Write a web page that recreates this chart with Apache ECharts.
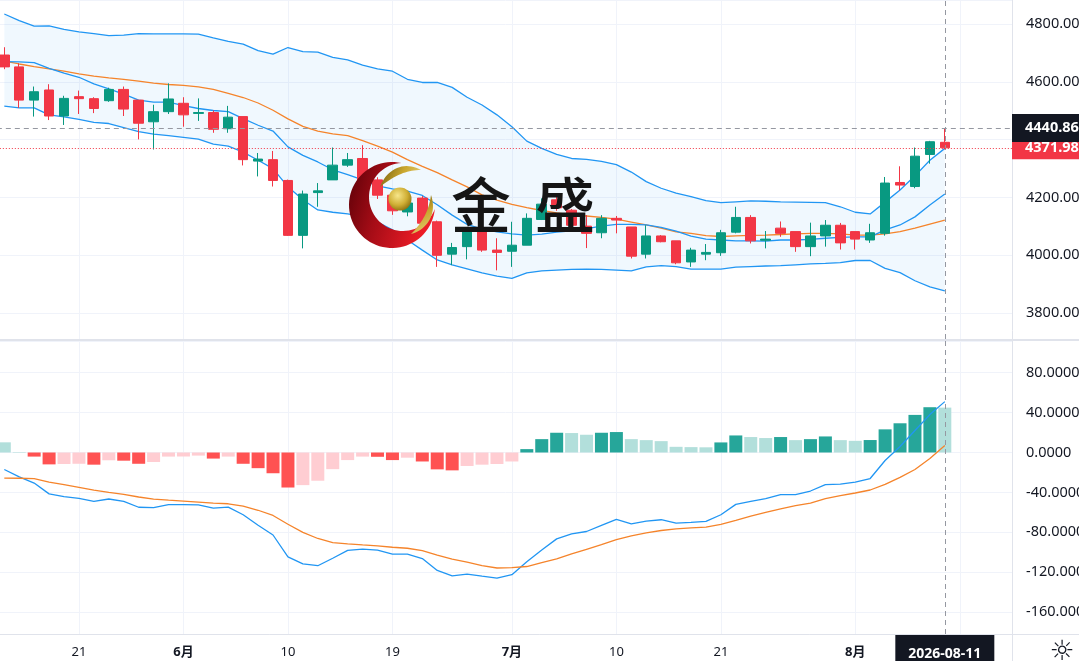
<!DOCTYPE html>
<html><head><meta charset="utf-8">
<script src="https://cdn.jsdelivr.net/npm/echarts@6/dist/echarts.min.js"></script>
<style>html,body{margin:0;padding:0;background:#fff;}#c{width:1079px;height:661px;}</style>
</head><body><div id="c"></div>
<script>
// ---------- data ----------
const dates = ['2026-05-14','2026-05-15','2026-05-18','2026-05-19','2026-05-20','2026-05-21','2026-05-22','2026-05-25','2026-05-26','2026-05-27','2026-05-28','2026-05-29',
'2026-06-01','2026-06-02','2026-06-03','2026-06-04','2026-06-05','2026-06-08','2026-06-09','2026-06-10','2026-06-11','2026-06-12','2026-06-15','2026-06-16','2026-06-17','2026-06-18','2026-06-19','2026-06-22','2026-06-23','2026-06-24','2026-06-25','2026-06-26','2026-06-29','2026-06-30',
'2026-07-01','2026-07-02','2026-07-03','2026-07-06','2026-07-07','2026-07-08','2026-07-09','2026-07-10','2026-07-13','2026-07-14','2026-07-15','2026-07-16','2026-07-17','2026-07-20','2026-07-21','2026-07-22','2026-07-23','2026-07-24','2026-07-27','2026-07-28','2026-07-29','2026-07-30','2026-07-31',
'2026-08-03','2026-08-04','2026-08-05','2026-08-06','2026-08-07','2026-08-10','2026-08-11'];
const futureDates = ['2026-08-12','2026-08-13','2026-08-14','2026-08-17'];

const openP = [4693,4652,4537,4572,4482,4549,4542,4535,4574,4537,
 4462,4497,4526,4491,4494,4438,4480,4326,4331,4259,
 4069,4217,4261,4312,4335,4261,4208,4150,4198,4116,
 4004,4030,4081,4018,4014,4035,4124,4192,4156,4101,
 4078,4128,4098,4004,4067,4050,3977,4004,4009,4080,
 4131,4052,4094,4082,4030,4067,4104,4082,4053,4076,
 4252,4238,4349,4391];
const closeP = [4652,4537,4566,4482,4543,4542,4508,4574,4506,4457,
 4497,4541,4486,4494,4436,4478,4331,4333,4259,4069,
 4212,4223,4312,4331,4261,4208,4154,4181,4111,4000,
 4027,4081,4018,4010,4035,4128,4177,4164,4104,4076,
 4128,4122,3997,4067,4047,3974,4018,4010,4078,4131,
 4050,4056,4076,4030,4067,4104,4043,4056,4078,4250,
 4243,4343,4393,4371.98];
const highP = [4720,4664,4584,4592,4552,4570,4547,4580,4584,4537,
 4521,4595,4547,4543,4501,4517,4480,4354,4361,4262,
 4224,4250,4373,4354,4381,4270,4222,4194,4205,4120,
 4043,4087,4087,4059,4116,4145,4197,4204,4160,4139,
 4139,4136,4098,4104,4070,4050,4026,4039,4088,4168,
 4139,4084,4117,4082,4113,4122,4112,4082,4109,4271,
 4308,4373,4396,4437];
const lowP = [4644,4510,4480,4468,4451,4489,4492,4531,4482,4401,
 4366,4489,4445,4465,4424,4424,4311,4273,4238,4067,
 4024,4168,4261,4306,4252,4195,4140,4135,4100,3960,
 3966,3986,4012,3948,3960,4035,4122,4154,4095,4025,
 4059,4076,3989,3989,4045,3969,3960,3983,3998,4076,
 4041,4024,4064,4012,3997,4030,4020,4020,4043,4068,
 4224,4232,4317,4367];

const bbUpper = [4835,4812,4793,4794,4782,4773,4767,4760,4762,4767,
 4766,4766,4766,4765,4752,4740,4731,4708,4696,4719,
 4705,4703,4685,4676,4658,4645,4637,4609,4598,4598,
 4581,4547,4520,4486,4445,4395,4370,4349,4335,4332,
 4325,4314,4288,4255,4232,4215,4203,4189,4182,4185,
 4188,4187,4185,4184,4183,4182,4168,4149,4143,4184,
 4226,4275,4329,4370];
const bbBasis = [4672,4662,4653,4645,4637,4628,4620,4614,4609,4603,
 4596,4591,4588,4583,4574,4560,4546,4527,4502,4472,
 4446,4430,4420,4414,4397,4378,4357,4331,4308,4286,
 4261,4237,4209,4191,4176,4165,4155,4147,4140,4136,
 4131,4125,4115,4105,4094,4081,4076,4068,4065,4067,
 4069,4070,4072,4074,4076,4076,4074,4070,4070,4074,
 4082,4094,4108,4122];
const bbLower = [4516,4510,4510,4486,4479,4470,4460,4456,4442,4428,
 4419,4414,4408,4402,4385,4378,4357,4329,4300,4237,
 4192,4157,4149,4143,4134,4115,4088,4053,4018,3984,
 3967,3953,3939,3928,3920,3939,3946,3949,3951,3952,
 3951,3949,3946,3960,3964,3961,3952,3952,3952,3959,
 3961,3963,3964,3967,3970,3972,3975,3982,3982,3955,
 3940,3912,3891,3877];
const maLine = [4670,4669,4667,4647,4630,4616,4593,4576,4558,4537,
 4530,4530,4518,4508,4501,4497,4473,4450,4430,4375,
 4346,4323,4296,4279,4261,4240,4230,4222,4207,4175,
 4139,4107,4091,4081,4074,4070,4073,4080,4085,4092,
 4101,4107,4107,4105,4097,4084,4066,4056,4053,4050,
 4050,4049,4053,4053,4055,4059,4062,4064,4064,4088,
 4105,4133,4174,4212];

const macdLine = [-17,-24.5,-30.6,-41.5,-44.3,-46,-49,-46.6,-49,-54.9,
 -55.2,-52.2,-52.2,-52.5,-55.8,-54.8,-62.4,-72.9,-82.7,-104.6,
 -111.7,-113.5,-106,-98.1,-96.8,-97.8,-101.9,-101.9,-106.3,-118.2,
 -123.6,-121.9,-124,-126,-122.5,-109.5,-97.7,-86.6,-81.5,-79.2,
 -73.1,-67.1,-71.5,-68.8,-67.4,-70.8,-70.1,-69.1,-62.4,-52,
 -49,-46.3,-42.3,-42.3,-38.6,-32.2,-31.8,-29.8,-26.1,-8,
 6,22,38,51];
const signalLine = [-25.6,-25.8,-26.2,-29.6,-32.3,-35,-37.8,-39.9,-41.9,-44.6,
 -46.7,-47.8,-48.8,-49.8,-50.8,-51.4,-53.8,-57.9,-63.1,-71.9,
 -80,-86.2,-90.3,-91.6,-92.7,-93.7,-95,-96,-98.4,-102.8,
 -107,-110,-113.5,-115.8,-115.5,-114.3,-110.4,-106.7,-101.7,-97,
 -92.3,-87.3,-83.5,-80.5,-78.2,-76.5,-75.5,-74.8,-72.1,-68.1,
 -63.8,-60.1,-56.4,-53.3,-50.7,-46.3,-43.3,-40.6,-37.6,-32,
 -25,-17,-6,7];
const macdHist = [10.2,0.5,-4.1,-11.9,-11.5,-11.3,-12.2,-7.8,-8.2,-11.3,
 -9.5,-4.1,-4.0,-3.1,-6.1,-4.1,-11.3,-15.7,-20.8,-35.1,
 -32.7,-28.3,-16.7,-7.6,-4.1,-4.3,-7.6,-5.2,-9.0,-16.9,
 -17.9,-13.5,-12.2,-11.5,-9.0,3.4,13.4,19.8,19.5,17.8,
 19.8,20.5,13.4,12.4,11.4,5.7,5.4,5.2,10.1,17.1,
 15.5,14.5,15.5,12.4,13.4,16.1,12.4,11.7,12.5,23.2,
 29.3,37.7,45.4,45.0];

const tickDates = ['2026-05-21','2026-06-01','2026-06-10','2026-06-19','2026-07-01','2026-07-10','2026-07-21','2026-08-03'];
const tickLabels = ['21','6月','10','19','7月','10','21','8月'];
const gridLineDates = tickDates.concat(['2026-08-12']);
const crossDate = '2026-08-11';
const crossPrice = 4440.86;
const lastPrice = 4371.98;

// ---------- style ----------
const FONT = "'Noto Sans','Noto Sans CJK SC',sans-serif";
const UP = '#089981', DN = '#f23645';
const BLUE = '#2196f3', ORANGE = '#f5842b';
const GRIDC = '#f0f3fa';
const TXT = '#131722';
const HIST_UP = '#26a69a', HIST_UP_L = '#b2dfdb', HIST_DN = '#ff5252', HIST_DN_L = '#ffcdd2';

const cats = dates.concat(futureDates);
const priceMin = 3710.4, priceMax = 4883.4;
const macdMin = -181.95, macdMax = 111.78;

const chart = echarts.init(document.getElementById('c'), null, {renderer: 'canvas', width: 1079, height: 661});

function vline(params, api) {
  const x = Math.round(api.coord([api.value(0), api.value(1)])[0]) + 0.5;
  const cs = params.coordSys;
  return {type: 'line', silent: true, shape: {x1: x, y1: cs.y, x2: x, y2: cs.y + cs.height},
    style: {stroke: GRIDC, lineWidth: 1}};
}
function bbFill(params, api) {
  if (params.dataIndex !== 0) return null;
  const pts = [];
  for (let i = 0; i < bbUpper.length; i++) pts.push(api.coord([i, bbUpper[i]]));
  for (let i = bbLower.length - 1; i >= 0; i--) pts.push(api.coord([i, bbLower[i]]));
  return {type: 'polygon', silent: true, shape: {points: pts}, style: {fill: 'rgba(33,150,243,0.065)'}};
}
const isMult = (v, m) => Math.abs(v / m - Math.round(v / m)) < 1e-6;
const lineS = (name, data, color, xi, yi, w) => ({
  name, type: 'line', data, xAxisIndex: xi, yAxisIndex: yi, showSymbol: false, symbol: 'none',
  lineStyle: {color, width: w}, itemStyle: {color}, silent: true, z: 3, animation: false
});
const dash = {color: '#9598a1', width: 1, type: [5, 4]};

const option = {
  animation: false,
  textStyle: {fontFamily: FONT},
  grid: [
    {left: -3.16, right: 67, top: 0, height: 339, containLabel: false, outerBoundsMode: 'none'},
    {left: -3.16, right: 67, top: 341, height: 293, containLabel: false, outerBoundsMode: 'none'}
  ],
  xAxis: [
    {type: 'category', gridIndex: 0, data: cats, boundaryGap: true,
     axisLine: {show: false}, axisTick: {show: false}, axisLabel: {show: false}, splitLine: {show: false}},
    {type: 'category', gridIndex: 1, data: cats, boundaryGap: true,
     axisLine: {show: false}, axisTick: {show: false}, splitLine: {show: false},
     axisLabel: {show: true, margin: 12, color: TXT, fontSize: 13, fontFamily: FONT,
       interval: (i, v) => tickDates.indexOf(v) >= 0,
       formatter: v => { const k = tickDates.indexOf(v); if (k < 0) return ''; const t = tickLabels[k]; return t.indexOf('月') >= 0 ? '{b|' + t + '}' : t; },
       rich: {b: {fontWeight: 'bold', fontSize: 13, color: TXT, fontFamily: FONT}}}}
  ],
  yAxis: [
    {type: 'value', gridIndex: 0, position: 'right', min: priceMin, max: priceMax, minInterval: 200, maxInterval: 200,
     axisLine: {show: false}, axisTick: {show: false}, splitLine: {show: true, lineStyle: {color: GRIDC, width: 1}},
     axisLabel: {margin: 14, color: TXT, fontSize: 14.5, fontFamily: FONT, formatter: v => isMult(v, 200) ? v.toFixed(2) : ''}},
    {type: 'value', gridIndex: 1, position: 'right', min: macdMin, max: macdMax, minInterval: 40, maxInterval: 40,
     axisLine: {show: false}, axisTick: {show: false}, splitLine: {show: true, lineStyle: {color: GRIDC, width: 1}},
     axisLabel: {margin: 14, color: TXT, fontSize: 14.5, fontFamily: FONT, formatter: v => isMult(v, 40) ? v.toFixed(4) : ''}}
  ],
  series: [
    {type: 'custom', xAxisIndex: 0, yAxisIndex: 0, data: gridLineDates.map(d => [d, 4400]), encode: {x: 0, y: 1}, renderItem: vline, z: 0, silent: true},
    {type: 'custom', xAxisIndex: 1, yAxisIndex: 1, data: gridLineDates.map(d => [d, 0]), encode: {x: 0, y: 1}, renderItem: vline, z: 0, silent: true},
    {type: 'custom', xAxisIndex: 0, yAxisIndex: 0, data: [[0, bbUpper[0]]], encode: {x: 0, y: 1}, renderItem: bbFill, z: 1, silent: true},
    lineS('Upper', bbUpper, BLUE, 0, 0, 1.3),
    lineS('Lower', bbLower, BLUE, 0, 0, 1.3),
    lineS('Basis', bbBasis, ORANGE, 0, 0, 1.3),
    lineS('MA', maLine, BLUE, 0, 0, 1.3),
    {type: 'candlestick', name: 'K', xAxisIndex: 0, yAxisIndex: 0, z: 4, silent: true,
     data: dates.map((d, i) => [openP[i], closeP[i], lowP[i], highP[i]]),
     barWidth: 10,
     itemStyle: {color: UP, color0: DN, borderColor: UP, borderColor0: DN, borderWidth: 1},
     markLine: {silent: true, symbol: ['none', 'none'], label: {show: false}, animation: false,
       data: [
         {xAxis: crossDate, lineStyle: dash},
         {yAxis: crossPrice, lineStyle: dash},
         {yAxis: lastPrice, lineStyle: {color: DN, width: 1, type: [1, 2]}}
       ]}},
    {type: 'bar', name: 'Hist', xAxisIndex: 1, yAxisIndex: 1, data: macdHist, barWidth: 13, z: 2, silent: true,
     itemStyle: {color: p => { const v = macdHist[p.dataIndex]; const prev = p.dataIndex > 0 ? macdHist[p.dataIndex - 1] : Infinity;
       return v >= 0 ? (v > prev ? HIST_UP : HIST_UP_L) : (v > prev ? HIST_DN_L : HIST_DN); }},
     markLine: {silent: true, symbol: ['none', 'none'], label: {show: false}, animation: false,
       data: [{xAxis: crossDate, lineStyle: dash}]}},
    lineS('MACD', macdLine, BLUE, 1, 1, 1.3),
    lineS('Signal', signalLine, ORANGE, 1, 1, 1.3)
  ]
};
chart.setOption(option);

const xc = chart.convertToPixel({xAxisIndex: 1}, crossDate);
const yc = chart.convertToPixel({yAxisIndex: 0}, crossPrice);
const yl = chart.convertToPixel({yAxisIndex: 0}, lastPrice);
const lblFont = {fontSize: 14.5, fontFamily: FONT, fontWeight: 'bold'};

// ----- watermark logo geometry (decorative) -----
function arcPts(cx, cy, r, a0, a1, n) {
  const out = [];
  for (let k = 0; k <= n; k++) { const a = (a0 + (a1 - a0) * k / n) * Math.PI / 180; out.push([cx + r * Math.cos(a), cy + r * Math.sin(a)]); }
  return out;
}
function bezPts(p0, p1, p2, p3, n) {
  const out = [];
  for (let k = 0; k <= n; k++) { const t = k / n, u = 1 - t;
    out.push([u*u*u*p0[0] + 3*u*u*t*p1[0] + 3*u*t*t*p2[0] + t*t*t*p3[0], u*u*u*p0[1] + 3*u*u*t*p1[1] + 3*u*t*t*p2[1] + t*t*t*p3[1]]); }
  return out;
}
const crescent = arcPts(392, 205, 43, -77.4, -354.7, 60).concat(arcPts(403, 197, 34, 20.7, 267.3, 50));
const leafTop = bezPts([380,187],[387,168],[405,161],[421,170],20).concat(bezPts([421,170],[405,170],[392,177],[380,187],20));
const leafRight = bezPts([431,195],[437,212],[429,229],[411,234],20).concat(bezPts([411,234],[423,222],[429,210],[431,195],20));

const gold = {type: 'linear', x: 0, y: 0, x2: 1, y2: 1, colorStops: [{offset: 0, color: '#6e5a0c'}, {offset: 0.5, color: '#c9a62e'}, {offset: 1, color: '#e9d27c'}]};
chart.setOption({graphic: [
  {type: 'polygon', z: 50, silent: true, shape: {points: crescent},
   style: {fill: {type: 'linear', x: 0, y: 0, x2: 1, y2: 0.3, colorStops: [{offset: 0, color: '#5a0007'}, {offset: 0.45, color: '#a40c16'}, {offset: 1, color: '#ec1c26'}]}}},
  {type: 'polygon', z: 51, silent: true, shape: {points: leafTop}, style: {fill: gold}},
  {type: 'polygon', z: 51, silent: true, shape: {points: leafRight}, style: {fill: gold}},
  {type: 'circle', z: 52, silent: true, shape: {cx: 400, cy: 199, r: 11.5},
   style: {fill: {type: 'radial', x: 0.4, y: 0.35, r: 0.7, colorStops: [{offset: 0, color: '#f7e68a'}, {offset: 0.6, color: '#cfae34'}, {offset: 1, color: '#8c6f10'}]}}},
  {type: 'text', z: 52, silent: true, style: {text: '金', x: 481, y: 205, align: 'center', verticalAlign: 'middle', fill: '#151515', fontSize: 60, fontWeight: 500, fontFamily: "'Noto Sans CJK SC'"}},
  {type: 'text', z: 52, silent: true, style: {text: '盛', x: 565, y: 205, align: 'center', verticalAlign: 'middle', fill: '#151515', fontSize: 60, fontWeight: 500, fontFamily: "'Noto Sans CJK SC'"}},
  {type: 'rect', z: 60, silent: true, shape: {x: 0, y: 339, width: 1079, height: 2}, style: {fill: '#e0e3eb'}},
  {type: 'line', z: 60, silent: true, shape: {x1: 1012.5, y1: 0, x2: 1012.5, y2: 661}, style: {stroke: '#e0e3eb', lineWidth: 1}},
  {type: 'line', z: 60, silent: true, shape: {x1: 0, y1: 634.5, x2: 1079, y2: 634.5}, style: {stroke: '#e0e3eb', lineWidth: 1}},
  {type: 'rect', z: 70, silent: true, shape: {x: 1012, y: yl - 11.5, width: 67, height: 23}, style: {fill: DN}},
  {type: 'text', z: 71, silent: true, style: Object.assign({text: lastPrice.toFixed(2), x: 1025, y: yl + 0.5, align: 'left', verticalAlign: 'middle', fill: '#ffffff'}, lblFont)},
  {type: 'rect', z: 72, silent: true, shape: {x: 1012, y: yc - 14, width: 67, height: 28}, style: {fill: TXT}},
  {type: 'text', z: 73, silent: true, style: Object.assign({text: crossPrice.toFixed(2), x: 1025, y: yc, align: 'left', verticalAlign: 'middle', fill: '#ffffff'}, lblFont)},
  {type: 'rect', z: 72, silent: true, shape: {x: xc - 49.5, y: 635, width: 99, height: 26}, style: {fill: TXT}},
  {type: 'text', z: 73, silent: true, style: {text: crossDate, x: xc, y: 654, align: 'center', verticalAlign: 'middle', fill: '#ffffff', fontSize: 14, fontWeight: 'bold', fontFamily: FONT}},
  {type: 'text', z: 73, silent: true, style: {text: '☼', x: 1062, y: 653, align: 'center', verticalAlign: 'middle', fill: TXT, fontSize: 28, fontFamily: "'DejaVu Sans'"}}
]});
</script>
</body></html>
